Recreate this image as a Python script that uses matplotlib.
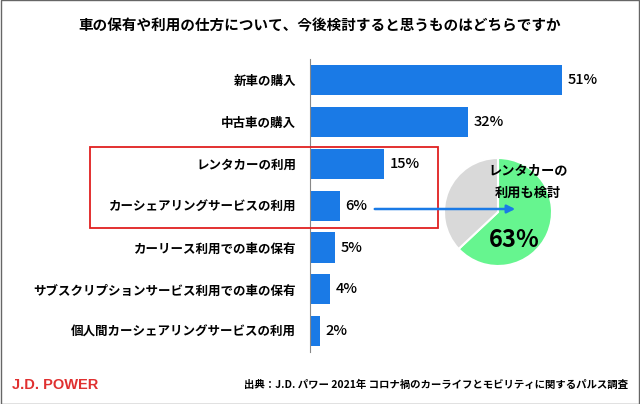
import matplotlib
matplotlib.use('Agg')
import matplotlib.pyplot as plt
from matplotlib.patches import Rectangle, FancyArrowPatch

plt.rcParams['font.family'] = 'Noto Sans CJK JP'

labels = ['新車の購入', '中古車の購入', 'レンタカーの利用', 'カーシェアリングサービスの利用',
          'カーリース利用での車の保有', 'サブスクリプションサービス利用での車の保有',
          '個人間カーシェアリングサービスの利用']
values = [51, 32, 15, 6, 5, 4, 2]
pie_vals = [63, 37]

W, H = 640, 404
fig = plt.figure(figsize=(6.4, 4.04), dpi=100)
fig.patch.set_facecolor('white')

def fx(x): return x / W
def fy(y): return 1 - y / H

ax = fig.add_axes([fx(310), fy(352), 330 / W, 292.6 / H])
ypos = list(range(len(values)))
ax.barh(ypos, values, height=0.72, color='#1a7ae6')
ax.set_ylim(6.5, -0.5)
ax.set_xlim(0, 330 / 4.94)
for y, v in zip(ypos, values):
    ax.text(v + 1.2, y, f'{v}%', va='center', ha='left', fontsize=10.5, fontweight='medium')
ax.set_yticks(ypos)
ax.set_yticklabels(labels, fontsize=9, fontweight='bold')
ax.tick_params(axis='y', length=0, pad=10)
ax.set_xticks([])
for s in ['top', 'right', 'bottom']:
    ax.spines[s].set_visible(False)
ax.spines['left'].set_color('#888888')
ax.patch.set_alpha(0)

fig.text(0.5, fy(26), '車の保有や利用の仕方について、今後検討すると思うものはどちらですか',
         ha='center', va='center', fontsize=10.5, fontweight='bold')

# red box
fig.patches.append(Rectangle((fx(90), fy(228)), 348 / W, 81 / H, transform=fig.transFigure,
                             fill=False, edgecolor='#e02020', linewidth=1.3))

# pie
r = 54
pax = fig.add_axes([fx(498 - r), fy(212 + r), 2 * r / W, 2 * r / H])
pax.pie(pie_vals, colors=['#66f58f', '#d9d9d9'], startangle=90, counterclock=False, radius=1,
        wedgeprops=dict(edgecolor='white', linewidth=1.5))
pax.set_xlim(-1, 1)
pax.set_ylim(-1, 1)
pax.set_aspect('auto')
pax.axis('off')
fig.text(fx(514), fy(240), f'{pie_vals[0]}%', ha='center', va='center', fontsize=17, fontweight='bold')
fig.text(fx(528), fy(182), 'レンタカーの\n利用も検討', ha='center', va='center', fontsize=9.5,
         fontweight='bold', linespacing=1.7)

fig.patches.append(FancyArrowPatch((fx(372), fy(209)), (fx(518), fy(209)), transform=fig.transFigure,
                                   arrowstyle='-|>', mutation_scale=12, color='#1a7ae6', linewidth=1.8))

fig.text(fx(12), fy(385), 'J.D. POWER', ha='left', va='center', fontsize=10.5, fontweight='bold',
         color='#e03030', family='Liberation Sans')
fig.text(fx(628), fy(385), '出典：J.D. パワー 2021年 コロナ禍のカーライフとモビリティに関するパルス調査',
         ha='right', va='center', fontsize=7.5, fontweight='bold')

fig.patches.append(Rectangle((0.001, 0.001), 0.998, 0.998, transform=fig.transFigure,
                             fill=False, edgecolor='#666666', linewidth=1))

fig.savefig('out.png', dpi=100)
